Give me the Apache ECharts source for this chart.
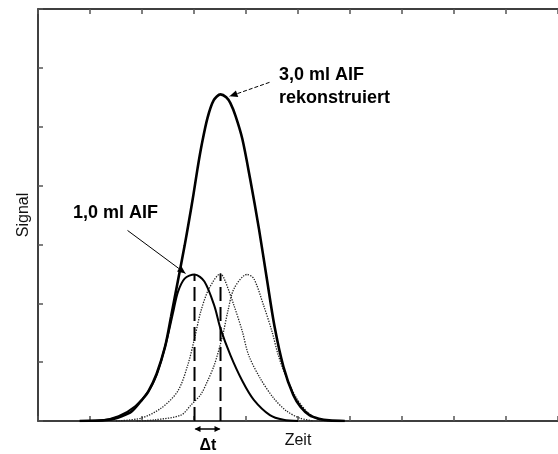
<!DOCTYPE html>
<html>
<head>
<meta charset="utf-8">
<script src="https://cdn.jsdelivr.net/npm/echarts/dist/echarts.min.js"></script>
<style>
  html, body { margin: 0; padding: 0; background: #fff; overflow: hidden; }
  #chart { width: 558px; height: 454px; }
</style>
</head>
<body>
<div id="chart"></div>
<script>
// Time axis (arbitrary units) and signal axis (arbitrary units)
const timeRange = [0, 10];
const signalRange = [0, 7];

// Reconstructed 3.0 ml AIF: [time, signal]
const aif3Rekon = [
  [0.80, 0.00], [1.36, 0.02], [1.61, 0.08], [1.80, 0.16], [2.00, 0.36],
  [2.12, 0.50], [2.28, 0.80], [2.44, 1.25], [2.56, 1.78], [2.69, 2.38],
  [2.82, 2.98], [2.90, 3.38], [2.99, 3.85], [3.07, 4.30], [3.15, 4.70],
  [3.26, 5.15], [3.38, 5.45], [3.51, 5.55], [3.62, 5.50], [3.70, 5.40],
  [3.80, 5.18], [3.93, 4.79], [4.08, 4.11], [4.25, 3.26], [4.40, 2.42],
  [4.55, 1.60], [4.72, 0.92], [4.91, 0.44], [5.05, 0.24], [5.22, 0.10],
  [5.40, 0.04], [5.60, 0.01], [5.90, 0.00]
];

// Measured 1.0 ml AIF
const aif1 = [
  [0.90, 0.00], [1.23, 0.01], [1.55, 0.08], [1.87, 0.25], [2.12, 0.50],
  [2.28, 0.78], [2.40, 1.12], [2.50, 1.46], [2.60, 1.85], [2.69, 2.19],
  [2.82, 2.42], [3.01, 2.49], [3.20, 2.37], [3.39, 1.96], [3.51, 1.57],
  [3.70, 1.12], [3.93, 0.68], [4.15, 0.36], [4.46, 0.10], [4.72, 0.02],
  [5.00, 0.00]
];

// 1.0 ml AIF delayed by one Δt
const aif1Delay1 = [
  [1.50, 0.00], [1.99, 0.05], [2.37, 0.22], [2.69, 0.51], [2.88, 0.95],
  [3.01, 1.40], [3.13, 1.86], [3.29, 2.25], [3.51, 2.50], [3.58, 2.42],
  [3.77, 1.96], [3.93, 1.52], [4.05, 1.12], [4.27, 0.73], [4.53, 0.39],
  [4.78, 0.17], [5.03, 0.05], [5.30, 0.00]
];

// 1.0 ml AIF delayed by two Δt
const aif1Delay2 = [
  [1.90, 0.00], [2.25, 0.02], [2.75, 0.10], [2.94, 0.27], [3.13, 0.45],
  [3.25, 0.66], [3.39, 0.95], [3.55, 1.45], [3.65, 1.86], [3.77, 2.25],
  [4.02, 2.49], [4.15, 2.42], [4.34, 1.96], [4.50, 1.52], [4.62, 1.12],
  [4.78, 0.73], [4.97, 0.39], [5.16, 0.17], [5.41, 0.02], [5.70, 0.00]
];

const FONT = '"Liberation Sans", Arial, sans-serif';

function peakOf(curve) {
  return curve.reduce((best, p) => (p[1] > best[1] ? p : best), curve[0]);
}
const peak1 = peakOf(aif1);
const peakD1 = peakOf(aif1Delay1);
const peakBig = peakOf(aif3Rekon);

const chart = echarts.init(document.getElementById('chart'), null, { renderer: 'canvas' });

const tickStyle = { show: true, inside: true, length: 5, lineStyle: { color: '#555', width: 1.5 } };

const option = {
  backgroundColor: '#fff',
  animation: false,
  grid: { left: 38, right: -6, top: 9, bottom: 31, containLabel: false },
  xAxis: [
    {
      type: 'value', min: timeRange[0], max: timeRange[1], interval: 1, position: 'bottom',
      axisLine: { show: true, onZero: false, lineStyle: { color: '#000', width: 1.5 } },
      axisTick: tickStyle, axisLabel: { show: false }, splitLine: { show: false },
      name: 'Zeit', nameLocation: 'middle', nameGap: 12,
      nameTextStyle: { fontFamily: FONT, fontSize: 16, color: '#111' }
    },
    {
      type: 'value', min: timeRange[0], max: timeRange[1], interval: 1, position: 'top',
      axisLine: { show: true, onZero: false, lineStyle: { color: '#000', width: 1.5 } },
      axisTick: tickStyle, axisLabel: { show: false }, splitLine: { show: false }
    }
  ],
  yAxis: {
    type: 'value', min: signalRange[0], max: signalRange[1], interval: 1,
    axisLine: { show: true, onZero: false, lineStyle: { color: '#000', width: 1.5 } },
    axisTick: tickStyle, axisLabel: { show: false }, splitLine: { show: false },
    name: 'Signal', nameLocation: 'middle', nameGap: 6,
    nameTextStyle: { fontFamily: FONT, fontSize: 16, color: '#111' }
  },
  series: [
    {
      name: 'aif1Delay2', type: 'line', data: aif1Delay2, smooth: 0.3, showSymbol: false,
      lineStyle: { color: '#222', width: 1.3, type: 'dotted' }, z: 2
    },
    {
      name: 'aif1Delay1', type: 'line', data: aif1Delay1, smooth: 0.3, showSymbol: false,
      lineStyle: { color: '#222', width: 1.3, type: 'dotted' }, z: 2
    },
    {
      name: 'aif1', type: 'line', data: aif1, smooth: 0.3, showSymbol: false,
      lineStyle: { color: '#000', width: 2 }, z: 4
    },
    {
      name: 'aif3Rekon', type: 'line', data: aif3Rekon, smooth: 0.3, showSymbol: false,
      lineStyle: { color: '#000', width: 2.6 }, z: 5
    },
    {
      name: 'peak1', type: 'line', data: [[peak1[0], 0], [peak1[0], peak1[1]]], showSymbol: false,
      lineStyle: { color: '#000', width: 2, type: [14, 6] }, z: 6
    },
    {
      name: 'peakD1', type: 'line', data: [[peakD1[0], 0], [peakD1[0], peakD1[1]]], showSymbol: false,
      lineStyle: { color: '#000', width: 2, type: [14, 6] }, z: 6
    }
  ]
};
chart.setOption(option);

// Annotation arrows and labels, anchored on the curve peaks
function toPx(p) { return chart.convertToPixel({ xAxisIndex: 0, yAxisIndex: 0 }, p); }

function arrowHead(x1, y1, x2, y2, len, half) {
  const a = Math.atan2(y2 - y1, x2 - x1);
  const bx = x2 - len * Math.cos(a), by = y2 - len * Math.sin(a);
  const nx = -Math.sin(a) * half, ny = Math.cos(a) * half;
  return {
    type: 'polygon', z: 100,
    shape: { points: [[x2, y2], [bx + nx, by + ny], [bx - nx, by - ny]] },
    style: { fill: '#000' }
  };
}

function arrow(x1, y1, x2, y2, dashed, width) {
  return [
    {
      type: 'line', z: 100,
      shape: { x1: x1, y1: y1, x2: x2, y2: y2 },
      style: { stroke: '#000', lineWidth: width || 1, lineDash: dashed ? [4, 2] : null }
    },
    arrowHead(x1, y1, x2, y2, 8, 3.5)
  ];
}

const p1 = toPx(peak1);
const pD1 = toPx(peakD1);
const pBig = toPx(peakBig);
const axisY = toPx([0, 0])[1];

const graphics = [];
graphics.push(...arrow(p1[0] - 67, p1[1] - 44, p1[0] - 9, p1[1] - 1, false, 1));
graphics.push(...arrow(pBig[0] + 49, pBig[1] - 12, pBig[0] + 9, pBig[1] + 2, true, 1));
// Δt double arrow under the axis
const dy = axisY + 8;
graphics.push({
  type: 'line', z: 100,
  shape: { x1: p1[0] + 1, y1: dy, x2: pD1[0] - 1, y2: dy },
  style: { stroke: '#000', lineWidth: 1.5 }
});
graphics.push(arrowHead(pD1[0], dy, p1[0], dy, 6, 3));
graphics.push(arrowHead(p1[0], dy, pD1[0], dy, 6, 3));

graphics.push({
  type: 'text', z: 100, left: (p1[0] + pD1[0]) / 2 - 8, top: axisY + 17,
  style: { text: 'Δt', font: 'bold 16px ' + FONT, fill: '#000' }
});
graphics.push({
  type: 'text', z: 100, left: 73, top: 204,
  style: { text: '1,0 ml AIF', font: 'bold 18px ' + FONT, fill: '#000' }
});
graphics.push({
  type: 'text', z: 100, left: 279, top: 64,
  style: { text: '3,0 ml AIF\nrekonstruiert', font: 'bold 18px ' + FONT, fill: '#000', lineHeight: 23 }
});

chart.setOption({ graphic: graphics });
</script>
</body>
</html>
